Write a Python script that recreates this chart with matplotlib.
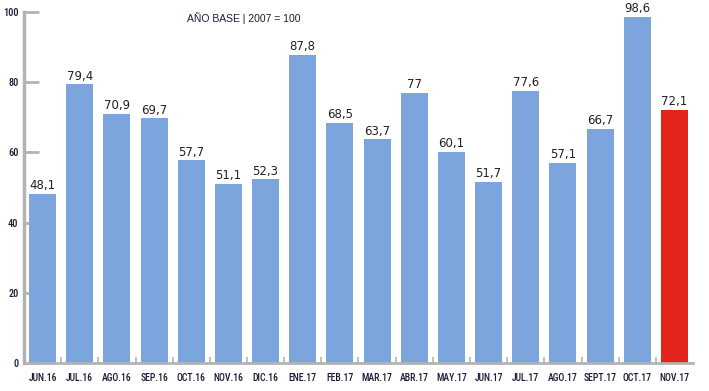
import numpy as np
import matplotlib.pyplot as plt

# Data
months = ['JUN.16', 'JUL.16', 'AGO.16', 'SEP.16', 'OCT.16', 'NOV.16', 'DIC.16',
          'ENE.17', 'FEB.17', 'MAR.17', 'ABR.17', 'MAY.17', 'JUN.17', 'JUL.17',
          'AGO.17', 'SEPT.17', 'OCT.17', 'NOV.17']
values = [48.1, 79.4, 70.9, 69.7, 57.7, 51.1, 52.3, 87.8, 68.5, 63.7, 77,
          60.1, 51.7, 77.6, 57.1, 66.7, 98.6, 72.1]
value_labels = ['48,1', '79,4', '70,9', '69,7', '57,7', '51,1', '52,3', '87,8',
                '68,5', '63,7', '77', '60,1', '51,7', '77,6', '57,1', '66,7',
                '98,6', '72,1']

blue = '#7ba5dc'
red = '#e3241b'
grey = '#b3b3b3'
text_col = '#1c1c3a'
narrow = 'Roboto Condensed'

colors = [blue] * (len(values) - 1) + [red]
x = np.arange(len(values))

fig = plt.figure(figsize=(7.09, 3.91), dpi=100)
ax = fig.add_axes([24 / 709, 28 / 391, 669 / 709, 351 / 391])

ax.bar(x, values, width=0.73, color=colors, zorder=2)

# value labels on top of the bars
for xi, v, lab in zip(x, values, value_labels):
    ax.text(xi, v + 0.5, lab, ha='center', va='bottom', fontsize=8.5,
            color='#222222', family='DejaVu Sans')

ax.set_xlim(-0.5, len(values) - 0.5)
ax.set_ylim(0, 100)

# axes styling
for s in ['top', 'right']:
    ax.spines[s].set_visible(False)
ax.spines['left'].set_color(grey)
ax.spines['left'].set_linewidth(2.5)
ax.spines['bottom'].set_color(grey)
ax.spines['bottom'].set_linewidth(2)

ax.set_yticks([0, 20, 40, 60, 80, 100])
ax.tick_params(axis='y', direction='in', length=11, width=2, color=grey,
               pad=4, labelsize=7.5, labelcolor=text_col)
for t in ax.get_yticklabels():
    t.set_family(narrow)
    t.set_fontweight('medium')

ax.set_xticks(x)
ax.set_xticklabels(months, family=narrow, fontsize=7, color=text_col,
                   fontweight='medium')
ax.tick_params(axis='x', which='major', length=0, pad=7)
ax.set_xticks(np.arange(0.5, len(values) - 0.5, 1), minor=True)
ax.tick_params(axis='x', which='minor', direction='in', length=4, width=1.2,
               color=grey)

ax.text(0.329, 0.983, 'AÑO BASE | 2007 = 100', transform=ax.transAxes,
        ha='center', va='center', fontsize=7.5, family='Liberation Sans',
        color=text_col)

plt.savefig('out.png', dpi=100)
